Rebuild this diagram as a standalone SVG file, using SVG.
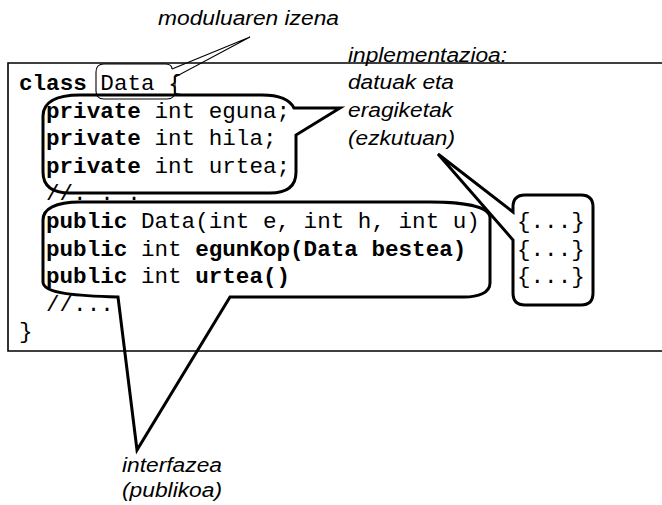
<svg xmlns="http://www.w3.org/2000/svg" width="662" height="505" viewBox="0 0 662 505">
  <style>
    .code { font-family: "Liberation Mono", "Courier New", monospace; font-size: 22.6px; fill: #000; }
    .kw { font-weight: bold; }
    .note { font-family: "Liberation Sans", Arial, sans-serif; font-style: italic; font-size: 20.5px; fill: #000; }
    .frame { fill: none; stroke: #000; stroke-width: 1.6; }
    .bubble { fill: none; stroke: #000; stroke-width: 3; stroke-linejoin: miter; }
    .thin { fill: none; stroke: #000; stroke-width: 1.1; }
  </style>

  <rect width="662" height="505" fill="#fff"/>

  <!-- class body frame (open on the right) -->
  <g id="class-frame">
    <path class="frame" d="M662,63 H8 V351 H662"/>
  </g>

  <!-- source code -->
  <g id="code">
    <text class="code" x="19" y="90"><tspan class="kw">class</tspan> Data {</text>
    <text class="code" x="46" y="117.6"><tspan class="kw">private</tspan> int eguna;</text>
    <text class="code" x="46" y="145.2"><tspan class="kw">private</tspan> int hila;</text>
    <text class="code" x="46" y="172.8"><tspan class="kw">private</tspan> int urtea;</text>
    <text class="code" x="46" y="200.4">//. . .</text>
    <text class="code" x="46" y="228"><tspan class="kw">public</tspan> Data(int e, int h, int u)</text>
    <text class="code" x="46" y="255.6"><tspan class="kw">public</tspan> int <tspan class="kw">egunKop(Data bestea)</tspan></text>
    <text class="code" x="46" y="283.2"><tspan class="kw">public</tspan> int <tspan class="kw">urtea()</tspan></text>
    <text class="code" x="46" y="310.8">//...</text>
    <text class="code" x="19" y="338.4">}</text>
  </g>

  <!-- method bodies -->
  <g id="bodies">
    <path class="bubble" stroke-width="2.6" d="M513,212 L438,154 L513,240 L513,293 Q513,305 525,305 L581,305 Q593,305 593,293 L593,207 Q593,195 581,195 L525,195 Q513,195 513,207 Z"/>
    <text class="code" x="517" y="228">{...}</text>
    <text class="code" x="517" y="255.6">{...}</text>
    <text class="code" x="517" y="283.2">{...}</text>
  </g>

  <!-- callouts -->
  <g id="connectors">
    <!-- module name -->
    <path class="thin" d="M172,69 L250,37 L175,77 L175,91 Q175,99 167,99 L104,99 Q96,99 96,91 L96,72 Q96,64 104,64 L165,64 Q172,64 172,69"/>
    <!-- private part -->
    <path class="bubble" d="M340,108 L296,135 L296,172 Q296,193 270,193 L70,193 Q43,193 43,172 L43,116 C43,103 55,95 80,95 L262,95 C280,95 290,100 294,108 Z"/>
    <!-- public part -->
    <path class="bubble" d="M230,297 L137,450 L118,297 C80,296 43,294 43,282 L43,220 C43,209 55,202 80,202 L430,202 C465,202 490,207 490,218 L490,283 C490,293 478,297 464,297 Z"/>
  </g>

  <!-- labels -->
  <g id="label-module">
    <text class="note" x="158" y="25" textLength="181" lengthAdjust="spacingAndGlyphs">moduluaren izena</text>
  </g>
  <g id="label-implementation">
    <text class="note" x="348" y="61.5" textLength="159" lengthAdjust="spacingAndGlyphs">inplementazioa:</text>
    <text class="note" x="348" y="89.3" textLength="106" lengthAdjust="spacingAndGlyphs">datuak eta</text>
    <text class="note" x="348" y="117" textLength="105" lengthAdjust="spacingAndGlyphs">eragiketak</text>
    <text class="note" x="348" y="144.8" textLength="107" lengthAdjust="spacingAndGlyphs">(ezkutuan)</text>
  </g>
  <g id="label-interface">
    <text class="note" x="122" y="472" textLength="100" lengthAdjust="spacingAndGlyphs">interfazea</text>
    <text class="note" x="122" y="497" textLength="100" lengthAdjust="spacingAndGlyphs">(publikoa)</text>
  </g>
</svg>
